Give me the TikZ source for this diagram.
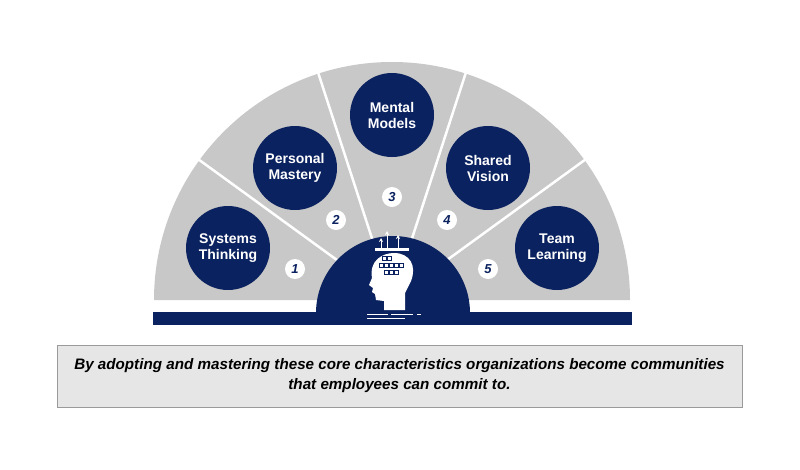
\documentclass[tikz,border=0pt]{standalone}
\usepackage{fontspec}
\setmainfont{Liberation Sans}
\usetikzlibrary{arrows.meta}
\definecolor{navy}{HTML}{0B2260}
\definecolor{wedge}{HTML}{C8C8C8}
\definecolor{boxfill}{HTML}{E6E6E6}
\definecolor{boxline}{HTML}{9A9A9A}
\begin{document}
\begin{tikzpicture}[x=1pt,y=-1pt,
  topic/.style={circle,fill=navy,minimum size=84pt,inner sep=0pt,text=white,font=\fontsize{14}{16}\selectfont\bfseries,align=center},
  badge/.style={circle,fill=white,minimum size=20pt,inner sep=0pt,text=navy,font=\fontsize{13}{13}\selectfont\bfseries\itshape},
  sep/.style={white,line width=2.5pt},
  sq/.style={draw=navy,line width=0.7pt,fill=white}]
\useasboundingbox (0,0) rectangle (800,469);
\fill[white] (0,0) rectangle (800,469);
% grey half disc
\fill[wedge] (154,300) arc[start angle=180,end angle=360,radius=238] -- cycle;
\coordinate (c) at (392,300);
\foreach \a in {36,72,108,144}{
  \draw[sep] (c) -- ++({-\a}:240);
}
% navy bar and centre
\fill[navy] (153,312) rectangle (632,325);
\fill[navy] (316,313) arc[start angle=180,end angle=360,radius=77] -- cycle;
% topics
\node[topic] (st) at (228,248) {Systems\\Thinking};
\node[topic] (pm) at (295,168) {Personal\\Mastery};
\node[topic] (mm) at (392,115) {Mental\\Models};
\node[topic] (sv) at (488,168) {Shared\\Vision};
\node[topic] (tl) at (557,248) {Team\\Learning};
\node[badge] (b1) at (295,269) {1};
\node[badge] (b2) at (336,220) {2};
\node[badge] (b3) at (392,197) {3};
\node[badge] (b4) at (447,220) {4};
\node[badge] (b5) at (488,269) {5};
% head icon
\fill[white] (384,310) -- (384,301) -- (376,300) -- (375,294) -- (372,292) -- (373,288) -- (369,285)
  -- (372,278) .. controls (369,260) and (383,253) .. (394,253)
  .. controls (410,253) and (417,266) .. (411,281) -- (405,293) -- (405,310) -- cycle;
\fill[white] (375,248) rectangle (409,251);
\foreach \x/\t in {381/238,387/231,398/235}{
  \draw[white,line width=1pt,-{Stealth[length=4pt,width=4pt]}] (\x,248) -- (\x,\t);
}
\foreach \x in {384,389}{\draw[sq] (\x-2,256) rectangle (\x+2,260);}
\foreach \x in {381,386,391,396,401}{\draw[sq] (\x-2,263) rectangle (\x+2,267);}
\foreach \x in {386,391,396}{\draw[sq] (\x-2,270) rectangle (\x+2,274);}
\draw[white,line width=1pt] (367,314) -- (388,314) (391,314) -- (413,314) (417,314) -- (421,314);
\draw[white,line width=1pt] (367,318) -- (405,318);
% caption
\node[draw=boxline,fill=boxfill,line width=0.8pt,minimum width=685pt,minimum height=62pt,inner sep=0pt,
  align=center,font=\fontsize{15.2}{20}\selectfont\bfseries\itshape] (cap) at (399.5,376)
  {By adopting and mastering these core characteristics organizations become communities\\that employees can commit to.};
\end{tikzpicture}
\end{document}
